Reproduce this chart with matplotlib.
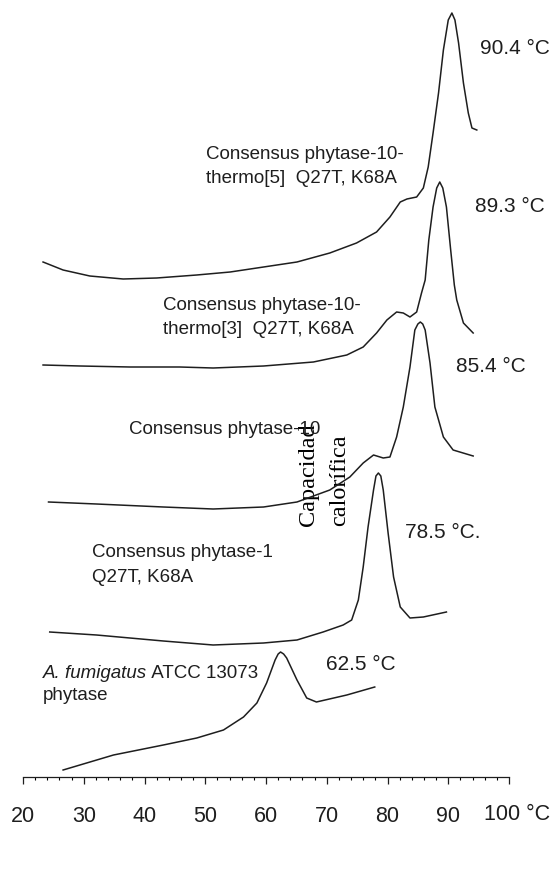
import matplotlib
matplotlib.use("Agg")
import matplotlib.pyplot as plt

plt.rcParams['font.family'] = ['Liberation Sans', 'DejaVu Sans']

# DSC traces: temperature (°C) and heat capacity (arbitrary units, stacked)
t_thermo5 = [23.3, 26.6, 31.0, 36.5, 42.0, 48.6, 54.1, 59.6, 65.1, 70.5, 74.9, 78.2, 80.4,
             82.1, 83.2, 84.8, 85.9, 86.7, 87.5, 88.4, 89.2, 90.0, 90.6, 91.1, 91.7, 92.5,
             93.3, 93.9, 94.7]
cp_thermo5 = [515, 507, 501, 498, 499, 502, 505, 510, 515, 524, 534, 545, 560,
              575, 578, 580, 589, 610, 644, 684, 727, 757, 764, 757, 734, 694,
              664, 649, 647]

t_thermo3 = [23.3, 29.4, 37.6, 45.8, 51.3, 59.6, 67.8, 73.3, 76.0, 78.2, 79.9, 81.5, 82.6,
             83.7, 84.8, 85.6, 86.2, 86.8, 87.5, 88.1, 88.6, 89.1, 89.7, 90.4, 91.0, 91.4,
             92.5, 94.1]
cp_thermo3 = [412, 411, 410, 410, 409, 411, 415, 422, 430, 444, 457, 465, 464,
              460, 465, 484, 497, 537, 570, 589, 595, 589, 570, 527, 492, 477,
              454, 444]

t_p10 = [24.2, 32.1, 43.1, 51.3, 59.6, 65.1, 70.5, 73.8, 76.0, 77.7, 79.3, 80.4, 81.5,
         82.6, 83.7, 84.5, 85.0, 85.4, 85.8, 86.2, 87.0, 87.8, 89.2, 90.8, 94.1]
cp_p10 = [275, 273, 270, 268, 270, 275, 287, 300, 314, 322, 319, 320, 340,
          370, 410, 447, 453, 455, 453, 447, 414, 370, 340, 327, 321]

t_p1 = [24.4, 32.1, 43.1, 51.3, 59.6, 65.1, 69.4, 72.7, 74.1, 75.2, 76.0, 76.8, 77.7,
        78.1, 78.5, 78.9, 79.3, 80.1, 81.0, 82.1, 83.7, 85.9, 89.7]
cp_p1 = [145, 142, 136, 132, 134, 137, 145, 152, 157, 177, 210, 250, 287,
         301, 304, 301, 287, 244, 200, 170, 159, 160, 165]

t_fum = [26.6, 34.9, 43.1, 48.6, 53.0, 56.3, 58.5, 60.1, 61.5, 62.0, 62.4, 62.9, 63.4,
         65.1, 66.7, 68.3, 73.3, 77.9]
cp_fum = [7, 22, 32, 39, 47, 60, 74, 94, 117, 123, 125, 123, 119,
          97, 79, 75, 82, 90]

curves = [(t_thermo5, cp_thermo5), (t_thermo3, cp_thermo3), (t_p10, cp_p10),
          (t_p1, cp_p1), (t_fum, cp_fum)]

peak_labels = ["90.4 °C", "89.3 °C", "85.4 °C", "78.5 °C.", "62.5 °C"]
peak_x = [95.3, 94.4, 91.2, 82.8, 69.8]
peak_y = [729, 570, 411, 245, 113]

names = ["Consensus phytase-10-\nthermo[5]  Q27T, K68A",
         "Consensus phytase-10-\nthermo[3]  Q27T, K68A",
         "Consensus phytase-10",
         "Consensus phytase-1\nQ27T, K68A"]
name_x = [50.1, 43.0, 37.5, 31.3]
name_y = [610.5, 459.6, 347.7, 212.3]

ticks = [20, 30, 40, 50, 60, 70, 80, 90, 100]
tick_labels = ["20", "30", "40", "50", "60", "70", "80", "90", ""]

ink = '#1e1e1e'

fig = plt.figure(figsize=(5.53, 8.83), dpi=100)
ax = fig.add_axes([23 / 553, 106 / 883, 486 / 553, 777 / 883])

for t, cp in curves:
    ax.plot(t, cp, color=ink, lw=1.1, clip_on=False, solid_joinstyle='round')

for lab, x, y in zip(peak_labels, peak_x, peak_y):
    ax.text(x, y, lab, fontsize=15, color=ink, ha='left', va='center')

for lab, x, y in zip(names, name_x, name_y):
    ax.text(x, y, lab, fontsize=13.5, color=ink, ha='left', va='center', linespacing=1.6)

# last trace label, species name in italics
t1 = ax.text(23.3, 104, "A. fumigatus", fontsize=13.5, color=ink, style='italic',
             ha='left', va='center')
ax.annotate(" ATCC 13073", xy=(1, 0.5), xycoords=t1, fontsize=13.5, color=ink,
            ha='left', va='center')
ax.text(23.3, 82, "phytase", fontsize=13.5, color=ink, ha='left', va='center')

ax.set_xlim(20, 100)
ax.set_ylim(0, 777)
ax.set_xticks(ticks)
ax.set_xticklabels(tick_labels)
ax.set_xticks(range(20, 101, 2), minor=True)
ax.tick_params(axis='x', which='major', direction='out', length=4.8, width=0.9,
               pad=16, labelsize=15.5, colors=ink)
ax.tick_params(axis='x', which='minor', direction='out', length=2.4, width=0.8)
ax.text(95.9, -38, "100 °C", fontsize=15.5, color=ink, ha='left', va='center', clip_on=False)
ax.set_yticks([])
for s in ['left', 'right', 'top']:
    ax.spines[s].set_visible(False)
ax.spines['bottom'].set_linewidth(0.9)
ax.spines['bottom'].set_color(ink)
ax.patch.set_alpha(0)

ax.set_ylabel("Capacidad\ncalorífica", family='Liberation Serif', fontsize=17.5,
              ha='center', va='center', rotation_mode='default', multialignment='left',
              linespacing=1.6)
ax.yaxis.set_label_coords(0.619, 0.389)

fig.savefig("out.png", dpi=100)
